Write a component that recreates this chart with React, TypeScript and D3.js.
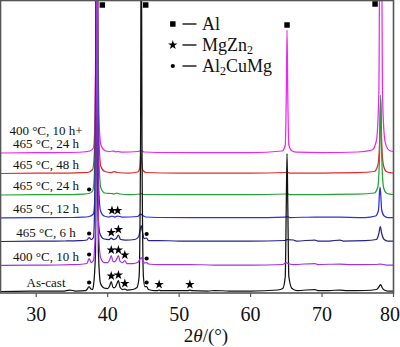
import React from "react";
import * as d3 from "d3";

// ---- data ----
const xTicks = [30, 40, 50, 60, 70, 80];
const seriesLabels = [
  ["As-cast"],
  ["400 °C, 10 h"],
  ["465 °C, 6 h"],
  ["465 °C, 12 h"],
  ["465 °C, 24 h"],
  ["465 °C, 48 h"],
  ["400 °C, 10 h+", "465 °C, 24 h"],
];
const seriesOffsets = [1.5, 27.5, 51.5, 75, 98, 119.5, 140];
const seriesColors = ["#111111", "#a232e6", "#23238f", "#2f2fe0", "#25a035", "#e52a2a", "#ee26ee"];

const asCast: [number, number][] = [
  [25, 0], [29, 0.3], [31.5, 0.5], [33.7, 0.3], [34.7, 1.5], [35.5, 0.5], [36.9, 0.8], [37.15, 2.5], [37.4, 5], [37.65, 2.5], [37.9, 2],
  [38.0, 5], [38.3, 40], [38.42, 180], [38.5, 400], [38.58, 180], [38.7, 40], [39.0, 8], [39.5, 3.5], [40.0, 3],
  [40.3, 6], [40.5, 10], [40.75, 4], [41.0, 4], [41.3, 8], [41.5, 11], [41.75, 4], [42.1, 2], [42.4, 2.5], [42.7, 1.5], [43.5, 2], [44.1, 4],
  [44.4, 15], [44.6, 150], [44.7, 400], [44.8, 150], [45.0, 15], [45.2, 5], [45.45, 5], [45.7, 2], [46.5, 1], [47.0, 1], [47.2, 1.5], [47.45, 0.8],
  [49, 0.8], [51.2, 0.8], [51.5, 1.5], [51.8, 0.8], [54, 0.5], [55, 1], [57, 0.5], [60, 0.5], [63.8, 1.5], [64.5, 3], [64.85, 15],
  [65.0, 90], [65.1, 138], [65.2, 90], [65.35, 15], [65.8, 3], [66.5, 1], [69, 2], [69.4, 1], [71, 1], [72.5, 1.5], [73.5, 0.8],
  [76, 1], [77.6, 2], [78.0, 5], [78.2, 7], [78.4, 4], [78.7, 1.5], [79.2, 0.5], [80, 0.5],
];
const t400_10: [number, number][] = [
  [25, 0], [30, 0.3], [33, 0.5], [35, 0.8], [36, 1], [37.1, 2], [37.4, 7], [37.7, 3], [38.0, 5], [38.3, 40], [38.42, 180], [38.5, 400],
  [38.58, 180], [38.7, 40], [39.0, 8], [39.5, 3], [40.0, 3], [40.3, 6], [40.5, 10], [40.75, 4], [41.0, 4], [41.3, 7], [41.5, 10],
  [41.75, 4], [42.1, 3], [42.4, 5], [42.7, 2], [43.5, 2], [44.2, 3], [44.5, 6], [44.7, 8], [44.9, 5], [45.2, 2.5], [45.45, 3],
  [45.7, 1.5], [46.5, 1], [48, 0.8], [51.5, 1], [55, 0.5], [60, 0.5], [64.5, 1], [65.0, 3], [65.2, 2], [66, 1], [69, 2], [69.4, 1],
  [72.5, 1.5], [74, 0.8], [77.5, 1], [78.2, 1.5], [79, 0.5], [80, 0.5],
];
const t465_6: [number, number][] = [
  [25, 0], [30, 0.3], [34, 0.5], [36, 0.8], [37.1, 1.5], [37.4, 4], [37.7, 2], [38.0, 4], [38.2, 40], [38.32, 180], [38.4, 400],
  [38.48, 180], [38.6, 40], [38.9, 8], [39.5, 2.5], [40.2, 2], [40.5, 3.5], [40.8, 2], [41.2, 3], [41.5, 6.5], [41.8, 2], [42.5, 1.5],
  [43.8, 2], [44.35, 5], [44.55, 12], [44.7, 16], [44.85, 10], [45.1, 3], [45.45, 3.5], [45.7, 1], [47, 1], [50, 0.5], [55, 0.5],
  [60, 0.5], [64.8, 1], [65.1, 2], [66.0, 1.5], [66.4, 0.5], [69, 1.5], [69.4, 0.5], [71, 0.5], [72.5, 1.5], [73, 0.5], [76, 0.8],
  [77.6, 2], [77.95, 8], [78.15, 15], [78.35, 8], [78.7, 2], [79.2, 0.5], [80, 0.5],
];
const t465_12: [number, number][] = [
  [25, 0], [30, 0.3], [35, 0.5], [36.5, 0.8], [37.4, 1.5], [38.0, 4], [38.3, 40], [38.42, 180], [38.5, 400], [38.58, 180], [38.7, 40],
  [39.0, 7], [39.5, 2], [40.2, 1], [40.6, 2], [41.0, 1], [41.4, 2], [42, 1], [44.2, 1.5], [44.6, 4], [44.8, 3], [45.3, 1], [47, 0.5],
  [55, 0.3], [60, 0.3], [64.8, 0.8], [65.1, 1.5], [65.5, 0.5], [69, 1], [72.5, 0.8], [76, 0.5], [77.5, 2], [77.9, 8], [78.1, 31],
  [78.2, 25], [78.35, 8], [78.7, 2], [79.2, 0.5], [80, 0.5],
];
const t465_24: [number, number][] = [
  [25, 0], [30, 0.3], [35, 0.4], [36.5, 0.8], [37.4, 1.5], [37.9, 4], [38.25, 40], [38.4, 180], [38.5, 400], [38.6, 180], [38.75, 40],
  [39.05, 7], [39.6, 2], [40.5, 1.5], [40.9, 1], [41.3, 2], [41.7, 1], [43, 0.5], [44.5, 1], [44.7, 1.5], [45, 0.5], [50, 0.3],
  [55, 0.3], [60, 0.3], [64.8, 1], [65.1, 1.5], [65.4, 0.5], [70, 0.5], [75, 0.8], [77.3, 2], [77.8, 8], [78.05, 40], [78.2, 100],
  [78.35, 40], [78.6, 8], [79.0, 2], [79.5, 0.8], [80, 0.5],
];
const t465_48: [number, number][] = [
  [25, 0], [30, 0.3], [34, 0.4], [36.2, 0.8], [37.2, 1], [37.9, 4], [38.25, 40], [38.4, 180], [38.5, 400], [38.6, 180], [38.75, 40],
  [39.05, 7], [39.6, 2], [40.5, 1], [40.9, 1.8], [41.4, 1], [43, 0.5], [44.2, 1.5], [44.5, 6], [44.65, 21], [44.75, 12], [44.95, 3],
  [45.4, 1], [50, 0.3], [55, 0.3], [60, 0.3], [64.8, 1], [65.1, 1.5], [65.4, 0.5], [70, 0.5], [75, 0.8], [77.3, 2], [77.8, 8],
  [78.05, 30], [78.2, 75], [78.35, 30], [78.6, 8], [79.0, 2], [79.5, 0.8], [80, 0.5],
];
const t400_10_465_24: [number, number][] = [
  [25, 0], [30, 0.3], [34, 0.5], [36.5, 1], [37.5, 2], [38.0, 5], [38.25, 40], [38.4, 180], [38.5, 400], [38.6, 180], [38.75, 40],
  [39.05, 8], [39.6, 2.5], [40.2, 1.5], [40.8, 2], [41.1, 1.2], [41.5, 1.5], [42, 0.8], [44.2, 1.5], [44.7, 2.5], [45.1, 1], [47, 0.5],
  [55, 0.3], [60, 0.3], [64.4, 2], [64.85, 8], [65.0, 60], [65.1, 123], [65.2, 60], [65.35, 8], [65.8, 2], [66.5, 0.8], [70, 0.5],
  [75, 1], [77.0, 3], [77.6, 12], [77.95, 60], [78.2, 400], [78.45, 60], [78.8, 12], [79.2, 4], [79.6, 2], [80, 1.5],
];
const allSeries = [asCast, t400_10, t465_6, t465_12, t465_24, t465_48, t400_10_465_24];
const drawOrder = [6, 5, 4, 3, 2, 0, 1];

// phase marks: [series index, 2theta, phase]
const phaseMarks: [number, number, string][] = [
  [0, 37.4, "dot"], [0, 40.5, "star"], [0, 41.5, "star"], [0, 42.4, "star"], [0, 45.45, "dot"], [0, 47.2, "star"], [0, 51.5, "star"],
  [1, 37.4, "dot"], [1, 40.5, "star"], [1, 41.5, "star"], [1, 42.4, "star"], [1, 45.45, "dot"],
  [2, 37.4, "dot"], [2, 40.5, "star"], [2, 41.5, "star"], [2, 45.45, "dot"],
  [3, 40.6, "star"], [3, 41.4, "star"],
  [4, 37.4, "dot"],
];
const alMarks: [number, number][] = [[39.25, 288], [45.32, 288], [65.1, 268], [77.42, 289]];
const legendItems = [
  { sym: "square", text: ["Al"] },
  { sym: "star", text: ["MgZn", "2"] },
  { sym: "dot", text: ["Al", "2", "CuMg"] },
];

// ---- layout ----
const W = 400, H = 347;
const PL = 0.5, PR = 393.5, PT = 0.5, PB = 293;
const FONT = "Liberation Serif, Times New Roman, DejaVu Serif, serif";
const fontStyle = { fontFamily: FONT };

const x = d3.scaleLinear().domain([25, 80]).range([PL, PR]);
const y = d3.scaleLinear().domain([0, 292]).range([293, 1]);

const starPath = d3.symbol(d3.symbolStar, 28)() as string;
const squarePath = d3.symbol(d3.symbolSquare, 30)() as string;

function Sym({ type, cx, cy }: { type: string; cx: number; cy: number }) {
  if (type === "dot") return <circle cx={cx} cy={cy} r={2.1} fill="#000" />;
  if (type === "star") return <path d={starPath} transform={`translate(${cx},${cy})`} fill="#000" />;
  return <path d={squarePath} transform={`translate(${cx},${cy})`} fill="#000" />;
}

export default function App() {
  const lines = allSeries.map((s, i) =>
    d3
      .line<[number, number]>()
      .x((d) => x(d[0]))
      .y((d) => y(d[1] + seriesOffsets[i]))
      .curve(d3.curveMonotoneX)(s) as string
  );

  const valueAt = (i: number, a: number) => {
    const s = allSeries[i];
    let best = s[0];
    for (const p of s) if (Math.abs(p[0] - a) < Math.abs(best[0] - a)) best = p;
    return best[1];
  };

  const legendX = 172.8;
  const legendY = [24, 45, 66];

  return (
    <svg width={W} height={H} style={{ position: "absolute", left: 0, top: 0, background: "#fff", fontFamily: FONT }}>
      <defs>
        <clipPath id="plotclip">
          <rect x={PL} y={PT} width={PR - PL} height={PB - PT} />
        </clipPath>
      </defs>
      <rect x={0} y={0} width={W} height={H} fill="#fff" />
      <g clipPath="url(#plotclip)">
        {drawOrder.map((i) => (
          <path key={i} d={lines[i]} fill="none" stroke={seriesColors[i]} strokeWidth={1.25} strokeLinejoin="round" />
        ))}
      </g>
      {/* frame */}
      <rect x={PL} y={PT} width={PR - PL} height={PB - PT} fill="none" stroke="#555" strokeWidth={1.6} />
      {/* x ticks */}
      {xTicks.map((t, k) => (
        <g key={t}>
          <line x1={x(t)} x2={x(t)} y1={PB} y2={PB + 4} stroke="#555" strokeWidth={1.2} />
          <text
            x={k === xTicks.length - 1 ? 400 : x(t)}
            y={321}
            fontSize={20}
            textAnchor={k === xTicks.length - 1 ? "end" : "middle"}
            fill="#111"
            style={fontStyle}
          >
            {t}
          </text>
        </g>
      ))}
      <text x={206} y={342} fontSize={19} textAnchor="middle" fill="#111" style={fontStyle}>
        2<tspan fontStyle="italic">θ</tspan>/(°)
      </text>
      {/* series labels */}
      {seriesLabels.map((lab, i) => {
        const by = y(seriesOffsets[i]) - 5;
        return lab.map((l, k) => (
          <text
            key={`${i}-${k}`}
            x={46}
            y={by - (lab.length - 1 - k) * 13.5}
            fontSize={13}
            textAnchor="middle"
            fill="#111"
            style={fontStyle}
          >
            {l}
          </text>
        ));
      })}
      {/* phase marks */}
      {phaseMarks.map(([si, a, ph], k) => {
        const top = y(valueAt(si, a) + seriesOffsets[si]);
        return <Sym key={k} type={ph} cx={x(a)} cy={top - (ph === "dot" ? 4 : 5.5)} />;
      })}
      {alMarks.map(([a, v], k) => (
        <Sym key={`al${k}`} type="square" cx={x(a)} cy={y(v)} />
      ))}
      {/* legend */}
      {legendItems.map((it, k) => (
        <g key={k}>
          <Sym type={it.sym} cx={legendX} cy={legendY[k]} />
          <line x1={182.5} x2={196.5} y1={legendY[k]} y2={legendY[k]} stroke="#000" strokeWidth={1.3} />
          <text x={202} y={legendY[k] + 6} fontSize={18} fill="#111" style={fontStyle}>
            {it.text.length === 1 ? (
              it.text[0]
            ) : it.text.length === 2 ? (
              <>
                {it.text[0]}
                <tspan fontSize={12} dy={3}>{it.text[1]}</tspan>
              </>
            ) : (
              <>
                {it.text[0]}
                <tspan fontSize={12} dy={3}>{it.text[1]}</tspan>
                <tspan dy={-3}>{it.text[2]}</tspan>
              </>
            )}
          </text>
        </g>
      ))}
    </svg>
  );
}
